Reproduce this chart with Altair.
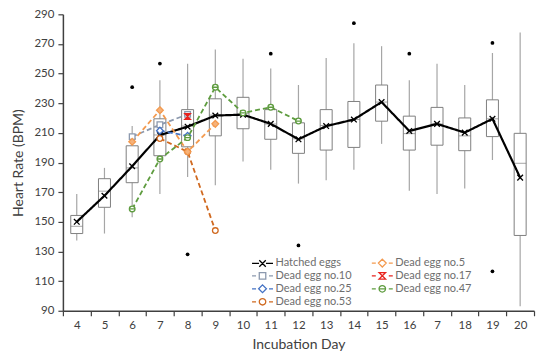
import altair as alt
import pandas as pd

# ---------------- data ----------------
days = [str(d) for d in range(4, 21)]
tick_labels = ["4", "5", "6", "7", "8", "9", "10", "11", "12", "13", "14", "15", "16", "7", "18", "19", "20"]

whisker_low = [137.4, 142.1, 153.1, 168.7, 180.2, 174.7, 190.7, 185.1, 175.8, 178.0, 185.1, 202.6, 170.9, 168.7, 172.5, 191.7, 93.0]
box_q1 = [142.1, 159.8, 176.4, 194.6, 200.6, 208.0, 212.8, 205.7, 196.2, 198.4, 200.2, 217.9, 198.4, 201.7, 198.0, 207.5, 140.8]
box_median = [147.0, 170.7, 186.4, 208.6, 214.6, 222.0, 223.0, 216.0, 206.0, 215.0, 219.0, 230.8, 209.5, 216.0, 208.0, 219.5, 189.5]
box_q3 = [154.3, 179.1, 201.3, 219.5, 225.7, 233.0, 234.0, 225.7, 216.8, 225.7, 231.2, 242.3, 221.3, 227.2, 220.1, 232.3, 209.7]
whisker_high = [168.7, 186.4, 214.6, 245.6, 256.7, 266.3, 260.0, 253.4, 242.3, 260.5, 270.5, 268.5, 245.6, 256.7, 242.3, 263.9, 277.8]
hatched_mean = [150.0, 167.6, 187.5, 208.5, 214.2, 221.7, 222.3, 216.1, 205.7, 214.6, 219.0, 230.8, 211.3, 216.1, 210.2, 219.5, 179.8]

outlier_days = ["6", "7", "8", "11", "12", "14", "16", "19", "19"]
outlier_values = [240.8, 256.8, 128.1, 263.4, 134.1, 284.0, 263.4, 270.7, 116.6]

egg10_days = ["6", "7", "8"]
egg10_values = [207.5, 215.5, 222.5]
egg5_days = ["6", "7", "8", "9"]
egg5_values = [204.0, 225.3, 197.3, 216.1]
egg17_days = ["8"]
egg17_values = [221.0]
egg25_days = ["7", "8"]
egg25_values = [211.5, 208.0]
egg47_days = ["6", "7", "8", "9", "10", "11", "12"]
egg47_values = [158.7, 192.4, 206.8, 240.8, 223.5, 227.3, 218.0]
egg53_days = ["7", "8", "9"]
egg53_values = [206.2, 197.3, 144.1]

# legend order (filled column by column): Hatched, no.10, no.25, no.53 | no.5, no.17, no.47
series_names = ["Hatched eggs", "Dead egg no.10", "Dead egg no.25", "Dead egg no.53",
                "Dead egg no.5", "Dead egg no.17", "Dead egg no.47"]
series_colors = ["#000000", "#8C99AE", "#4472C4", "#D0691F", "#F39A4F", "#E8231E", "#5E9C3F"]
series_fills = ["#000000", "#FFFFFF", "#FFFFFF", "#FFFFFF", "#F6B27A", "#E8231E", "#FFFFFF"]
series_dash = [[1, 0], [5, 3], [5, 3], [5, 3], [5, 3], [5, 3], [5, 3]]
series_width = [2.2, 1.8, 1.8, 1.8, 1.8, 1.8, 1.8]
series_marker = ["x", "square", "diamond", "circle", "diamond", "hourglass", "circleline"]

# ---------------- tables ----------------
box_df = pd.DataFrame({"day": days, "lo": whisker_low, "q1": box_q1, "med": box_median,
                       "q3": box_q3, "hi": whisker_high})
out_df = pd.DataFrame({"day": outlier_days, "value": outlier_values})

series_data = {
    "Hatched eggs": (days, hatched_mean),
    "Dead egg no.5": (egg5_days, egg5_values),
    "Dead egg no.10": (egg10_days, egg10_values),
    "Dead egg no.17": (egg17_days, egg17_values),
    "Dead egg no.25": (egg25_days, egg25_values),
    "Dead egg no.47": (egg47_days, egg47_values),
    "Dead egg no.53": (egg53_days, egg53_values),
}
rows = []
for name in series_names:
    ds, vs = series_data[name]
    for d, v in zip(ds, vs):
        rows.append({"series": name, "day": d, "value": v})
ser_df = pd.DataFrame(rows)
leg_df = pd.DataFrame({"series": series_names})


# ---------------- marker shapes (SVG paths) ----------------
def marker(kind, k):
    if kind == "x":
        return f"M{-k},{-k}L{k},{k}M{-k},{k}L{k},{-k}"
    if kind == "square":
        return f"M{-k},{-k}H{k}V{k}H{-k}Z"
    if kind == "diamond":
        d = round(1.2 * k, 3)
        return f"M0,{-d}L{d},0L0,{d}L{-d},0Z"
    if kind == "hourglass":
        return f"M{-k},{-k}H{k}L{-k},{k}H{k}Z"
    circ = f"M{-k},0A{k},{k} 0 1,0 {k},0A{k},{k} 0 1,0 {-k},0Z"
    if kind == "circleline":
        return circ + f"M{-k},0H{k}"
    return circ


legend_paths = []
for i, m in enumerate(series_marker):
    line = "M-2.1,0H-0.7M0.7,0H2.1" if i == 0 else "M-2.1,0H-1.3M1.3,0H2.1"
    legend_paths.append(line + marker(m, 0.65))

FONT = "Lato"
TXT = "#404040"

label_expr = "datum.value"
for d, t in zip(days, tick_labels):
    if d != t:
        label_expr = f"datum.value == '{d}' ? '{t}' : ({label_expr})"

x_scale = alt.Scale(domain=days, type="band", paddingInner=0, paddingOuter=0)
x_enc = alt.X("day:N", scale=x_scale, sort=days,
              axis=alt.Axis(title="Incubation Day", labelExpr=label_expr, labelAngle=0,
                            tickBand="extent", tickSize=5, labelPadding=4, titlePadding=6))
y_scale = alt.Scale(domain=[90, 290], nice=False, zero=False)
y_axis = alt.Axis(title="Heart Rate (BPM)", values=list(range(90, 291, 20)), tickSize=5,
                  labelPadding=4, titlePadding=8, grid=False)

whisk = alt.Chart(box_df).mark_rule(color="#A6A6A6", strokeWidth=1.2).encode(
    x=x_enc, y=alt.Y("lo:Q", scale=y_scale, axis=y_axis), y2="hi:Q")
box = alt.Chart(box_df).mark_bar(width=12, fill="white", stroke="#7F7F7F", strokeWidth=1).encode(
    x=x_enc, y=alt.Y("q1:Q", scale=y_scale, axis=y_axis), y2="q3:Q")
med = alt.Chart(box_df).mark_tick(size=12, thickness=1, color="#7F7F7F").encode(
    x=x_enc, y=alt.Y("med:Q", scale=y_scale, axis=y_axis))
outl = alt.Chart(out_df).mark_circle(size=14, color="#000000", opacity=1).encode(
    x=x_enc, y=alt.Y("value:Q", scale=y_scale, axis=y_axis))

line_layers = []
point_layers = []
for name, col, fil, m, dash, w in zip(series_names, series_colors, series_fills,
                                       series_marker, series_dash, series_width):
    line_layers.append(
        alt.Chart(ser_df).transform_filter(alt.datum.series == name).mark_line(
            stroke=col, strokeDash=dash, strokeWidth=w,
        ).encode(x=x_enc, y=alt.Y("value:Q", scale=y_scale, axis=y_axis))
    )
    point_layers.append(
        alt.Chart(ser_df).transform_filter(alt.datum.series == name).mark_point(
            shape=marker(m, 1), filled=True, size=32, strokeWidth=1.3, opacity=1,
            stroke=col, fill=fil,
        ).encode(x=x_enc, y=alt.Y("value:Q", scale=y_scale, axis=y_axis))
    )

legend_props = dict(title=None, orient="none", legendX=194, legendY=243,
                    columns=2, symbolSize=100, symbolStrokeWidth=1.3,
                    symbolOpacity=1, labelOffset=7, columnPadding=16,
                    rowPadding=0, labelFontSize=11, labelColor="#6E6E6E",
                    labelFont=FONT, padding=0)
# legend-only layer: its marks sit outside the plot and are clipped away
legend_layer = alt.Chart(leg_df).mark_point(filled=False, clip=True).encode(
    x=alt.value(-200), y=alt.value(-200),
    color=alt.Color("series:N", scale=alt.Scale(domain=series_names, range=series_colors),
                    legend=alt.Legend(**legend_props)),
    shape=alt.Shape("series:N", scale=alt.Scale(domain=series_names, range=legend_paths),
                    legend=alt.Legend(**legend_props)),
)

chart = alt.layer(whisk, box, med, outl, *line_layers, *point_layers, legend_layer).properties(
    width=472, height=297,
    autosize=alt.AutoSizeParams(type="none"),
    padding={"left": 55, "top": 6, "right": 8, "bottom": 46},
).configure_view(stroke=None).configure_axis(
    labelFont=FONT, titleFont=FONT, labelFontSize=11.5, titleFontSize=14,
    labelColor=TXT, titleColor=TXT, domainColor="#404040", tickColor="#404040",
    domainWidth=1.5, tickWidth=1.2, titleFontWeight="normal", grid=False,
)

chart.save("out.html", embed_options={"renderer": "svg", "actions": False})
